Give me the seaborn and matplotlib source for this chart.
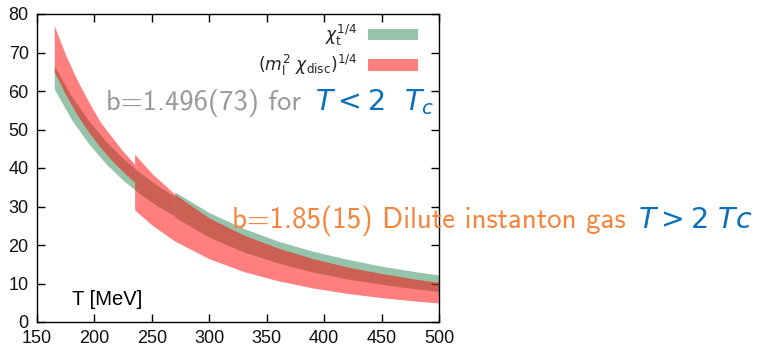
import matplotlib
matplotlib.use("Agg")
import matplotlib.pyplot as plt
import seaborn as sns
from matplotlib.patches import Patch

# ---- data ----
T_green_a = [165, 180, 195, 210, 225, 240, 255, 270]
green_a_hi = [66.6, 58.7, 52.3, 46.9, 42.5, 38.7, 35.4, 32.6]
green_a_lo = [60.5, 52.6, 46.3, 41.1, 36.8, 33.2, 30.1, 27.5]

T_green_b = [270, 300, 330, 360, 390, 420, 450, 480, 500]
green_b_hi = [33.8, 28.4, 24.3, 21.0, 18.4, 16.3, 14.5, 13.05, 12.2]
green_b_lo = [27.2, 22.0, 18.2, 15.3, 13.0, 11.2, 9.8, 8.6, 7.9]

T_red_a = [165, 175, 185, 195, 205, 215, 225, 235]
red_a_hi = [77.0, 69.3, 62.8, 57.2, 52.0, 48.1, 44.3, 41.0]
red_a_lo = [65.0, 59.0, 53.8, 49.3, 45.4, 42.0, 39.0, 36.3]

T_red_b = [235, 250, 270, 300, 330, 360, 390, 420, 450, 480, 500]
red_b_hi = [43.6, 38.6, 33.2, 27.0, 22.6, 19.2, 16.5, 14.3, 12.6, 11.1, 10.3]
red_b_lo = [29.1, 25.2, 21.0, 16.4, 13.1, 10.7, 8.85, 7.43, 6.32, 5.43, 4.94]

x_ticks = [150, 200, 250, 300, 350, 400, 450, 500]
y_ticks = [0, 10, 20, 30, 40, 50, 60, 70, 80]
legend_labels = [r"$\chi_{\mathrm{t}}^{1/4}$", r"$(m_{\mathrm{l}}^2\ \chi_{\mathrm{disc}})^{1/4}$"]

# ---- style ----
sns.set_theme(style="ticks")
plt.rcParams["font.family"] = ["Liberation Sans", "DejaVu Sans"]

W, H = 761, 354
fig = plt.figure(figsize=(W / 100, H / 100), dpi=100)
ax = fig.add_axes([37 / W, 32 / H, 402 / W, 308 / H])

GREEN = "#2e8b57"
RED = "#ff0000"

ax.fill_between(T_green_a, green_a_lo, green_a_hi, color=GREEN, alpha=0.5, lw=0)
ax.fill_between(T_green_b, green_b_lo, green_b_hi, color=GREEN, alpha=0.5, lw=0)
ax.fill_between(T_red_a, red_a_lo, red_a_hi, color=RED, alpha=0.5, lw=0)
ax.fill_between(T_red_b, red_b_lo, red_b_hi, color=RED, alpha=0.5, lw=0)

ax.set_xlim(150, 500)
ax.set_ylim(0, 80)
ax.set_xticks(x_ticks)
ax.set_yticks(y_ticks)
ax.tick_params(axis="both", direction="in", length=6, width=1, color="black",
               top=True, right=True, labelsize=13, labelcolor="#111111")
ax.tick_params(axis="x", pad=6)
ax.tick_params(axis="y", pad=6)
for s in ax.spines.values():
    s.set_linewidth(1)
    s.set_color("black")
ax.set_xlabel("")
ax.set_ylabel("")

handles = [Patch(facecolor=GREEN, alpha=0.5, lw=0), Patch(facecolor=RED, alpha=0.5, lw=0)]
ax.legend(handles, legend_labels, loc="upper right",
          bbox_to_anchor=((418 - 37) / 402, (322 - 22) / 308),
          markerfirst=False, frameon=False, fontsize=12.3,
          handlelength=2.9, handleheight=0.65, handletextpad=0.65,
          labelspacing=0.3, borderaxespad=0, borderpad=0)

def ftext(x, y, s, **kw):
    fig.text(x / W, 1 - y / H, s, va="baseline", ha="left", **kw)

ftext(72, 305, "T [MeV]", fontsize=14.5, color="black")
ftext(106, 110, "b=1.496(73) for", family="cmss10", fontsize=20.5, color="#999999")
ftext(315, 110, r"$T < 2\ \ T_c$", fontsize=20.5, color="#0b6fba")
ftext(232, 228, "b=1.85(15) Dilute instanton gas", family="cmss10", fontsize=20.9, color="#f4853d")
ftext(638, 228, r"$T > 2\ Tc$", fontsize=20.5, color="#0b6fba")

fig.savefig("out.png", dpi=100)
